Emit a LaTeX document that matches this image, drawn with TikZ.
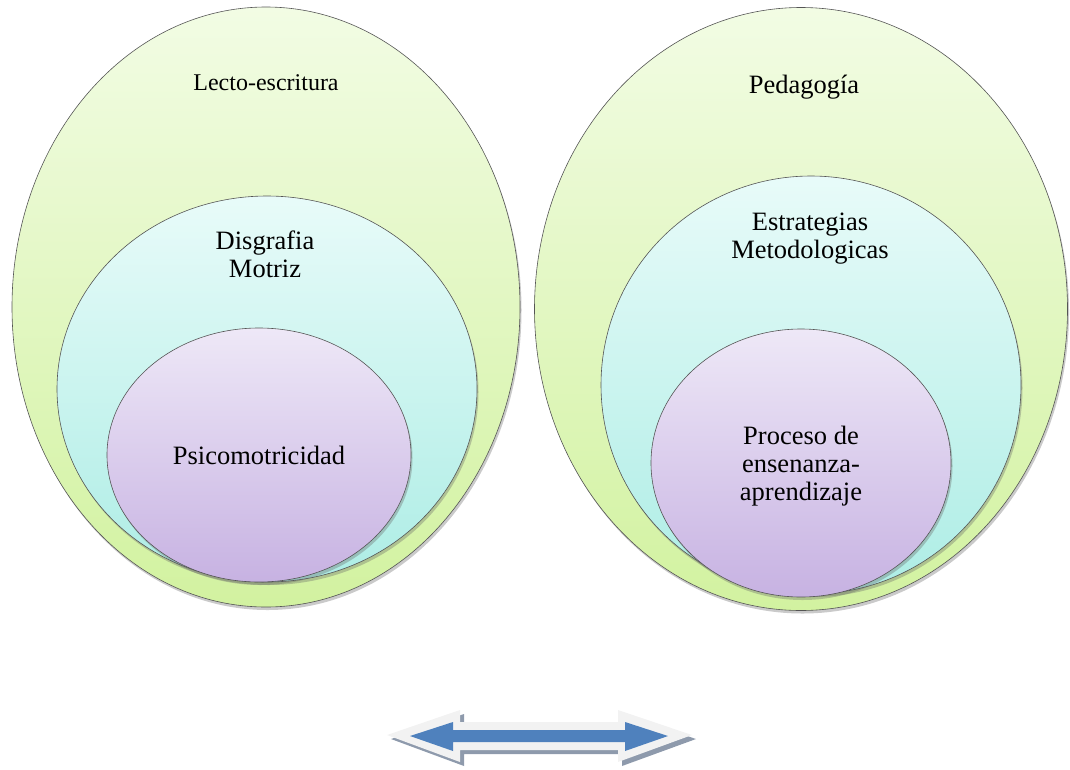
\documentclass[tikz,border=0pt]{standalone}
\usepackage{fontspec}
\setmainfont{Liberation Serif}
\usetikzlibrary{shapes.geometric,shadows}
\definecolor{gtop}{HTML}{F2FCE4}
\definecolor{gbot}{HTML}{D2F2A0}
\definecolor{ctop}{HTML}{E8FBF9}
\definecolor{cbot}{HTML}{ADEDE5}
\definecolor{ptop}{HTML}{EEE8F7}
\definecolor{pbot}{HTML}{C7B2E2}
\definecolor{arrblue}{HTML}{4F81BD}
\definecolor{arrlight}{HTML}{F2F2F2}
\definecolor{arrshadow}{HTML}{8E9AAC}
\definecolor{edge}{HTML}{555555}
\tikzset{
  bubble/.style={ellipse, draw=edge, line width=0.6pt, inner sep=0pt,
    drop shadow={shadow xshift=1.5pt, shadow yshift=-3pt, opacity=0.35, fill=black!60}},
  greenb/.style={bubble, top color=gtop, bottom color=gbot},
  cyanb/.style={bubble, top color=ctop, bottom color=cbot},
  purpleb/.style={bubble, top color=ptop, bottom color=pbot},
  lbl/.style={align=center, font=\fontsize{26.5}{28}\selectfont, text=black},
  lblsmall/.style={align=center, font=\fontsize{24}{26}\selectfont, text=black}
}
\begin{document}
\begin{tikzpicture}[x=1pt,y=-1pt]
\useasboundingbox (0,0) rectangle (1070,769);
% left group
\node[greenb, minimum width=508pt, minimum height=600pt] (outerL) at (266,307) {};
\node[cyanb, minimum width=420pt, minimum height=386pt] (midL) at (267,389) {};
\node[purpleb, minimum width=304pt, minimum height=254pt] (innerL) at (259,455) {};
\node[lblsmall] (tLecto) at (266,83) {Lecto-escritura};
\node[lbl] (tDis) at (265,254) {Disgrafia\\Motriz};
\node[lbl] (tPsi) at (259,455) {Psicomotricidad};
% right group
\node[greenb, minimum width=533pt, minimum height=603pt] (outerR) at (801,309) {};
\node[cyanb, minimum width=420pt, minimum height=418pt] (midR) at (811,385) {};
\node[purpleb, minimum width=300pt, minimum height=268pt] (innerR) at (801,463) {};
\node[lbl] (tPed) at (804,87) {Pedagogía};
\node[lbl] (tEst) at (810,239) {Estrategias\\Metodologicas};
\node[lbl] (tPro) at (801,466) {Proceso de\\ensenanza-\\aprendizaje};
% double arrow
\fill[arrshadow] (391,739) -- (464,714) -- (464,726) -- (622,726) -- (622,714) -- (696,739)
  -- (622,766) -- (622,754) -- (464,754) -- (464,766) -- cycle;
\fill[arrlight] (387,735) -- (460,710) -- (460,722) -- (618,722) -- (618,710) -- (692,735)
  -- (618,762) -- (618,750) -- (460,750) -- (460,762) -- cycle;
\fill[arrblue] (410,736) -- (453,722) -- (453,730) -- (625,730) -- (625,722) -- (668,736)
  -- (625,751) -- (625,742) -- (453,742) -- (453,751) -- cycle;
\end{tikzpicture}
\end{document}
